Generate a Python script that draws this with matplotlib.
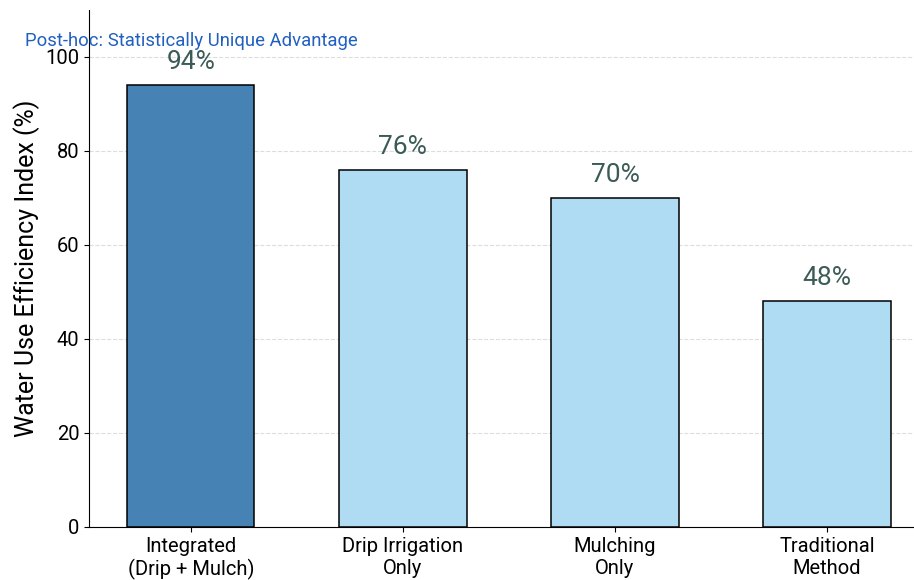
import matplotlib
matplotlib.use('Agg')
import matplotlib.pyplot as plt

plt.rcParams['font.family'] = ['Roboto', 'DejaVu Sans']

# данные
methods = ['Integrated\n(Drip + Mulch)', 'Drip Irrigation\nOnly', 'Mulching\nOnly', 'Traditional\nMethod']
efficiency = [94, 76, 70, 48]
bar_colors = ['#4682B4', '#AFDBF3', '#AFDBF3', '#AFDBF3']
yticks = [0, 20, 40, 60, 80, 100]

fig = plt.figure(figsize=(9.14, 5.8), dpi=100)
ax = fig.add_axes([89 / 914, 53 / 580, 825 / 914, 517 / 580])

x = list(range(len(methods)))
ax.bar(x, efficiency, width=0.6, color=bar_colors, edgecolor='black', linewidth=1.1, zorder=3)

# подписи над столбцами
for xi, v in zip(x, efficiency):
    ax.text(xi, v + 2.4, f'{v}%', ha='center', va='bottom', fontsize=19, color='#3B5B57', zorder=4)

# аннотация
ax.text(-0.78, 103.4, 'Post-hoc: Statistically Unique Advantage', ha='left', va='center',
        fontsize=13.3, color='#2160C0', clip_on=False)

ax.set_xlim(-0.48, 3.41)
ax.set_ylim(0, 110)
ax.set_xticks(x)
ax.set_xticklabels(methods, fontsize=14.5, linespacing=1.2)
ax.set_yticks(yticks)
ax.tick_params(axis='y', labelsize=14.5)
ax.set_ylabel('Water Use Efficiency Index (%)', fontsize=18, labelpad=4)

ax.yaxis.grid(True, linestyle='--', color='#DDDDDD', linewidth=0.8, zorder=0)
ax.spines['top'].set_visible(False)
ax.spines['right'].set_visible(False)

fig.savefig('out.png', dpi=100)
